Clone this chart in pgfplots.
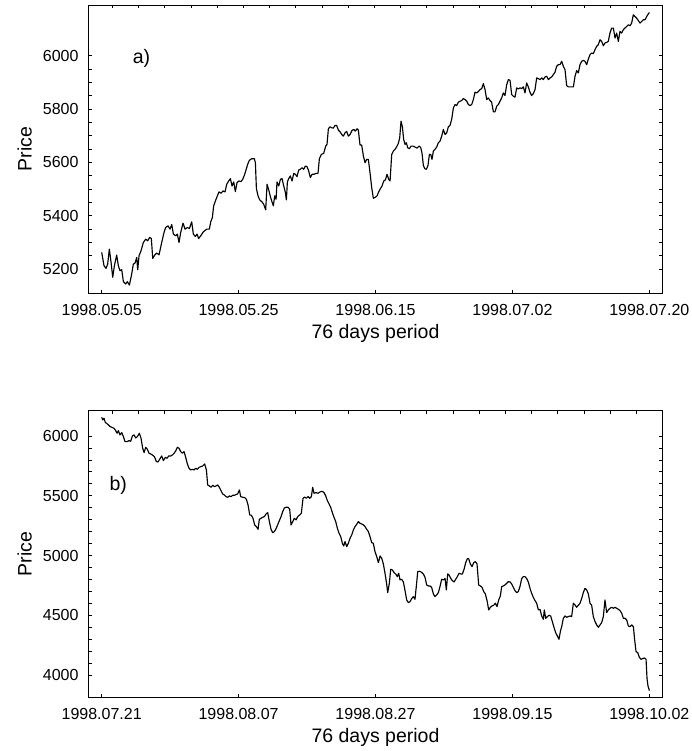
\documentclass[border=0pt]{standalone}
\usepackage{fontspec}
\setmainfont{Liberation Sans}
\usepackage{pgfplots}
\pgfplotsset{compat=1.18}

\pgfplotsset{
  pricepanel/.style={
    scale only axis, width=574.4pt,
    xmin=-1.86, xmax=77.86,
    xtick pos=left, tick align=inside,
    major tick length=3.4pt, minor tick length=3.4pt,
    every tick/.style={black, line width=0.7pt},
    axis line style={line width=0.9pt},
    tick label style={font=\fontsize{16}{19}\selectfont},
    label style={font=\fontsize{19.5}{23}\selectfont},
    /pgf/number format/assume math mode=true,
    /pgf/number format/1000 sep={},
    xticklabel style={yshift=-7.4pt},
    yticklabel style={xshift=-6.3pt},
    xlabel={76 days period}, ylabel={Price},
    xlabel style={at={([yshift=-45pt]axis description cs:0.5,0)}, anchor=base},
    ylabel style={at={([xshift=-56.6pt]axis description cs:0,0.5)}, anchor=base},
    xtick={0,19,38,57,76},
  },
  topticks/.style={
    scale only axis, width=574.4pt,
    xmin=-1.86, xmax=77.86,
    axis line style={draw=none}, ytick=\empty,
    xtick pos=right, tick align=inside, major tick length=3.4pt,
    every tick/.style={black, line width=0.7pt},
    xticklabels={},
    xtick={1.47,5.11,8.75,12.38,16.02,19.66,23.29,26.93,30.57,34.20,37.84,
           41.48,45.11,48.75,52.39,56.02,59.66,63.30,66.93,70.57,74.21},
  },
  curve/.style={black, line width=1.15pt, line join=round},
}

\begin{document}
\begin{tikzpicture}
\useasboundingbox (0,0) rectangle (691pt,751pt);

% panel a
\begin{axis}[pricepanel, at={(88.3pt,457.7pt)}, anchor=south west,
  height=288.3pt, ymin=5109, ymax=6190,
  ytick={5200,5400,5600,5800,6000}, minor y tick num=3,
  xticklabels={1998.05.05,1998.05.25,1998.06.15,1998.07.02,1998.07.20}]
\addplot[curve] table {
d p
0 5262.3
0.32 5212.4
0.60 5202.5
0.83 5218.7
1.06 5274.7
1.30 5225.0
1.53 5168.8
1.76 5212.4
2.08 5252.3
2.31 5212.4
2.54 5193.7
2.78 5197.5
3.01 5152.6
3.33 5143.9
3.56 5152.6
3.84 5140.1
4.12 5175.0
4.39 5218.7
4.63 5222.4
4.86 5243.6
5.00 5197.5
5.18 5249.8
5.46 5268.5
5.78 5299.6
6.11 5312.1
6.38 5305.9
6.66 5318.3
6.89 5314.4
7.08 5239.8
7.36 5252.3
7.63 5259.8
7.96 5253.5
8.33 5299.6
8.65 5337.0
8.88 5355.7
9.21 5361.9
9.48 5349.5
9.72 5366.9
9.95 5330.8
10.27 5324.6
10.50 5330.8
10.73 5299.6
10.96 5337.0
11.29 5371.9
11.57 5349.5
11.89 5355.7
12.17 5352.0
12.49 5376.9
12.72 5330.8
13.00 5322.1
13.23 5330.8
13.46 5314.4
13.74 5324.6
14.11 5339.5
14.57 5349.5
14.94 5349.5
15.13 5376.9
15.36 5393.1
15.54 5436.7
15.78 5455.4
16.05 5474.1
16.28 5489.1
16.56 5484.1
16.84 5492.8
17.12 5489.1
17.35 5517.7
17.63 5530.2
17.86 5538.9
18.09 5511.5
18.32 5526.4
18.55 5490.3
18.78 5523.9
19.06 5530.2
19.34 5527.7
19.57 5536.4
19.80 5551.4
20.03 5571.3
20.26 5592.5
20.49 5607.4
20.82 5613.7
21.19 5613.7
21.33 5598.7
21.47 5501.5
21.70 5474.1
21.93 5459.1
22.25 5451.7
22.48 5443.0
22.76 5421.8
22.95 5517.7
23.18 5496.5
23.41 5471.6
23.59 5455.4
23.82 5436.7
24.01 5474.1
24.20 5461.6
24.33 5526.4
24.57 5511.5
24.80 5536.4
25.03 5538.9
25.26 5511.5
25.49 5486.6
25.63 5459.1
25.77 5526.4
25.95 5538.9
26.18 5548.9
26.42 5530.2
26.65 5558.8
26.88 5555.1
27.11 5546.4
27.34 5571.3
27.57 5573.8
27.80 5580.0
28.03 5573.8
28.27 5586.2
28.50 5583.8
28.73 5567.6
28.96 5542.6
29.19 5555.1
29.47 5555.1
29.75 5558.8
30.02 5558.8
30.21 5613.7
30.49 5629.9
30.81 5633.6
31.09 5661.0
31.27 5667.2
31.46 5725.8
31.69 5733.3
31.92 5729.5
32.15 5728.3
32.38 5738.3
32.61 5738.3
32.85 5720.8
33.08 5714.6
33.31 5704.6
33.54 5698.4
33.77 5710.9
34.00 5715.8
34.23 5698.4
34.47 5704.6
34.74 5719.6
34.97 5723.3
35.20 5717.1
35.44 5725.8
35.62 5720.8
35.85 5664.8
36.08 5664.8
36.32 5623.6
36.55 5598.7
36.78 5611.2
37.01 5611.2
37.24 5561.3
37.47 5505.3
37.70 5465.4
37.98 5469.1
38.21 5474.1
38.44 5489.1
38.68 5501.5
38.91 5511.5
39.14 5530.2
39.37 5533.9
39.60 5555.1
39.83 5536.4
40.02 5530.2
40.25 5629.9
40.48 5642.3
40.71 5648.6
40.94 5658.5
41.17 5671.0
41.36 5692.2
41.54 5754.5
41.73 5733.3
41.91 5686.0
42.10 5667.2
42.28 5673.5
42.47 5654.8
42.70 5651.0
42.93 5660.9
43.21 5660.9
43.49 5657.3
43.76 5653.5
44.04 5660.9
44.27 5656.0
44.46 5633.6
44.64 5588.7
44.83 5576.3
45.06 5573.8
45.29 5588.7
45.48 5629.9
45.66 5629.9
45.84 5611.2
46.03 5642.3
46.26 5648.6
46.49 5657.3
46.72 5673.5
46.96 5679.7
47.19 5698.4
47.42 5723.3
47.65 5704.6
47.88 5710.9
48.11 5733.3
48.34 5738.3
48.57 5760.7
48.81 5804.3
49.04 5816.8
49.27 5813.0
49.50 5825.5
49.73 5829.2
49.96 5831.7
50.19 5839.2
50.42 5835.5
50.66 5829.2
50.89 5816.8
51.12 5813.0
51.35 5816.8
51.58 5835.5
51.81 5862.9
52.04 5860.4
52.27 5865.4
52.51 5872.9
52.74 5876.6
52.97 5895.3
53.20 5872.9
53.43 5835.5
53.66 5841.7
53.89 5831.7
54.12 5825.5
54.36 5789.4
54.59 5789.4
54.82 5810.5
55.05 5816.8
55.28 5829.2
55.51 5841.7
55.74 5860.4
55.97 5850.4
56.21 5891.5
56.44 5910.2
56.67 5907.7
56.90 5854.2
57.13 5847.9
57.36 5844.2
57.59 5879.1
57.82 5875.4
58.06 5879.1
58.29 5876.6
58.52 5882.8
58.75 5860.4
58.98 5897.8
59.21 5882.8
59.44 5862.9
59.67 5850.4
59.91 5857.9
60.14 5872.9
60.37 5916.5
60.60 5914.0
60.83 5910.2
61.06 5916.5
61.29 5910.2
61.52 5920.2
61.76 5922.7
61.99 5910.2
62.22 5916.5
62.45 5920.2
62.68 5928.9
62.91 5937.7
63.14 5960.1
63.37 5966.3
63.61 5966.3
63.84 5978.8
64.07 5960.1
64.30 5947.6
64.53 5887.8
64.76 5882.8
64.99 5882.8
65.22 5882.8
65.46 5882.8
65.69 5922.7
65.92 5943.9
66.15 5935.2
66.38 5966.3
66.61 5978.8
66.84 5982.5
67.07 5978.8
67.31 5966.3
67.54 5987.5
67.77 6003.7
68.00 6009.9
68.23 6007.4
68.46 6022.4
68.69 6034.8
68.92 6041.1
69.16 6059.8
69.39 6053.5
69.62 6037.3
69.85 6047.3
70.08 6049.8
70.31 6053.5
70.54 6084.7
70.77 6103.4
71.01 6103.4
71.24 6066.0
71.47 6084.7
71.70 6053.5
71.93 6090.9
72.16 6084.7
72.39 6097.2
72.62 6103.4
72.86 6109.6
73.09 6115.9
73.32 6112.1
73.55 6122.1
73.78 6153.2
74.01 6147.0
74.24 6140.8
74.47 6132.0
74.71 6122.1
74.94 6128.3
75.17 6134.5
75.40 6134.5
75.64 6147.0
75.87 6157.0
76.01 6161.9
};
\node[anchor=base west, font=\fontsize{19.5}{23}\selectfont]
  at (axis cs:3.83,5971) {a)};
\end{axis}
\begin{axis}[topticks, at={(88.3pt,457.7pt)}, anchor=south west,
  height=288.3pt, ymin=5109, ymax=6190]
\end{axis}

% panel b
\begin{axis}[pricepanel, at={(88.3pt,53.7pt)}, anchor=south west,
  height=286.6pt, ymin=3816, ymax=6211,
  ytick={4000,4500,5000,5500,6000}, minor y tick num=4,
  xticklabels={1998.07.21,1998.08.07,1998.08.27,1998.09.15,1998.10.02}]
\addplot[curve] table {
d p
0 6156.0
0.14 6133.7
0.32 6147.6
0.51 6111.4
0.69 6105.8
0.93 6091.9
1.16 6078.0
1.43 6072.4
1.71 6064.0
1.94 6044.5
2.13 6022.3
2.31 6044.5
2.54 6008.3
2.78 6027.8
3.01 5994.4
3.24 5952.6
3.52 5952.6
3.79 5960.9
4.02 5955.4
4.26 6000.0
4.49 6008.3
4.72 5983.3
4.95 5994.4
5.23 6022.3
5.46 5980.5
5.69 5896.9
5.88 5860.7
6.11 5905.3
6.34 5888.6
6.57 5855.1
6.80 5849.6
7.03 5841.2
7.31 5827.3
7.59 5785.5
7.82 5782.7
8.10 5810.6
8.33 5832.8
8.56 5793.9
8.84 5821.7
9.07 5813.4
9.30 5832.8
9.58 5832.8
9.81 5841.2
10.04 5855.1
10.27 5874.6
10.50 5905.3
10.73 5897.0
10.96 5869.1
11.20 5855.1
11.43 5869.1
11.66 5821.7
11.89 5766.0
12.12 5729.8
12.35 5715.9
12.58 5721.4
12.81 5715.9
13.05 5729.8
13.28 5721.4
13.51 5738.1
13.79 5743.7
14.02 5749.3
14.29 5766.0
14.53 5715.9
14.71 5590.5
14.94 5582.2
15.17 5571.0
15.41 5587.7
15.64 5576.6
15.87 5582.2
16.10 5590.5
16.33 5571.0
16.56 5543.1
16.79 5515.3
17.02 5506.9
17.26 5493.0
17.49 5487.5
17.72 5498.6
17.95 5493.0
18.18 5504.2
18.41 5504.2
18.64 5509.7
18.87 5515.3
19.11 5548.7
19.29 5493.0
19.57 5487.5
19.85 5484.7
20.08 5470.7
20.31 5423.4
20.54 5339.8
20.77 5337.1
21.00 5312.0
21.23 5256.3
21.47 5242.3
21.70 5220.0
21.88 5303.6
22.11 5312.0
22.34 5320.3
22.58 5325.9
22.81 5348.2
23.04 5359.3
23.27 5284.1
23.50 5220.0
23.73 5192.2
23.96 5200.5
24.20 5225.6
24.43 5259.1
24.66 5292.5
24.89 5325.9
25.12 5367.7
25.35 5398.1
25.58 5403.9
25.86 5403.9
26.09 5387.2
26.28 5256.3
26.51 5284.1
26.74 5312.0
26.97 5298.0
27.20 5325.9
27.48 5339.8
27.71 5353.7
27.94 5479.1
28.17 5490.2
28.40 5479.1
28.64 5493.0
28.87 5479.1
29.10 5493.0
29.28 5571.0
29.47 5520.9
29.75 5526.4
30.02 5520.9
30.30 5532.0
30.58 5537.6
30.86 5526.4
31.09 5498.6
31.32 5459.6
31.55 5431.7
31.78 5403.9
32.01 5359.3
32.24 5320.3
32.48 5284.1
32.71 5228.4
32.94 5186.6
33.17 5158.8
33.40 5103.0
33.59 5080.8
33.77 5117.0
34.00 5075.2
34.23 5103.0
34.47 5144.8
34.70 5172.7
34.93 5214.5
35.16 5242.3
35.39 5261.8
35.62 5284.1
35.85 5270.2
36.08 5264.6
36.32 5256.3
36.55 5242.3
36.78 5220.0
37.01 5200.5
37.24 5158.8
37.47 5108.6
37.70 5103.0
37.93 5033.4
38.17 4991.6
38.40 4941.5
38.63 4997.2
38.86 4977.7
39.09 4930.3
39.32 4852.3
39.55 4763.2
39.69 4690.8
39.92 4768.8
40.11 4885.8
40.34 4880.2
40.57 4857.9
40.80 4846.8
41.03 4824.5
41.22 4852.3
41.40 4797.4
41.63 4802.2
41.87 4779.9
42.10 4707.5
42.33 4629.5
42.56 4607.2
42.79 4615.6
43.02 4640.6
43.25 4657.4
43.48 4635.1
43.67 4746.5
43.86 4866.3
44.09 4869.1
44.32 4863.5
44.64 4846.8
44.87 4818.9
45.10 4754.9
45.33 4746.5
45.56 4746.5
45.79 4735.4
46.03 4679.7
46.26 4657.4
46.49 4671.3
46.72 4690.8
46.95 4740.9
47.18 4802.2
47.42 4796.6
47.65 4810.6
47.83 4713.1
48.02 4846.8
48.20 4838.4
48.43 4810.6
48.66 4791.0
48.90 4779.9
49.13 4802.2
49.36 4824.5
49.59 4852.3
49.82 4846.8
50.06 4846.8
50.29 4885.8
50.52 4941.5
50.75 4974.9
50.93 4974.9
51.16 4930.3
51.40 4908.0
51.63 4941.5
51.86 4949.8
52.09 4930.3
52.32 4754.9
52.55 4746.5
52.78 4735.4
53.02 4699.1
53.25 4679.7
53.48 4624.0
53.71 4545.9
53.94 4568.2
54.17 4579.4
54.40 4584.9
54.64 4601.6
54.87 4573.8
55.10 4629.5
55.33 4663.0
55.51 4740.9
55.74 4746.5
55.97 4754.9
56.21 4768.8
56.44 4782.7
56.67 4779.9
56.90 4763.2
57.13 4735.4
57.36 4707.5
57.59 4690.8
57.82 4699.1
58.05 4740.9
58.29 4807.8
58.52 4824.5
58.75 4824.5
58.98 4807.8
59.21 4779.9
59.44 4727.0
59.67 4685.2
59.90 4651.8
60.14 4624.0
60.37 4601.6
60.60 4545.9
60.83 4551.5
61.06 4495.8
61.29 4467.9
61.43 4545.9
61.62 4476.3
61.85 4490.2
62.08 4501.3
62.31 4495.8
62.54 4448.4
62.77 4400.9
63.00 4356.5
63.24 4328.6
63.47 4300.8
63.65 4364.8
63.84 4406.6
64.07 4476.3
64.30 4495.8
64.53 4484.6
64.76 4490.2
64.99 4495.8
65.22 4490.2
65.46 4601.6
65.69 4587.7
65.92 4568.2
66.15 4584.9
66.38 4601.6
66.61 4640.6
66.84 4690.8
67.07 4727.0
67.31 4713.1
67.54 4679.7
67.77 4601.6
68.00 4584.9
68.23 4490.2
68.47 4448.4
68.70 4420.6
68.93 4401.1
69.16 4420.6
69.39 4440.1
69.62 4490.2
69.85 4629.5
70.08 4523.6
70.31 4545.9
70.55 4559.8
70.78 4568.2
71.01 4559.8
71.24 4568.2
71.47 4559.8
71.70 4551.5
71.94 4540.3
72.17 4518.0
72.40 4476.3
72.63 4476.3
72.86 4462.4
73.09 4412.2
73.33 4406.6
73.56 4420.6
73.79 4406.6
73.97 4295.2
74.16 4197.7
74.39 4189.3
74.62 4150.3
74.85 4133.6
75.08 4139.2
75.32 4144.8
75.55 4133.6
75.68 3974.9
75.82 3910.8
76.01 3871.8
};
\node[anchor=base west, font=\fontsize{19.5}{23}\selectfont]
  at (axis cs:0.6,5543) {b)};
\end{axis}
\begin{axis}[topticks, at={(88.3pt,53.7pt)}, anchor=south west,
  height=286.6pt, ymin=3816, ymax=6211]
\end{axis}
\end{tikzpicture}
\end{document}
